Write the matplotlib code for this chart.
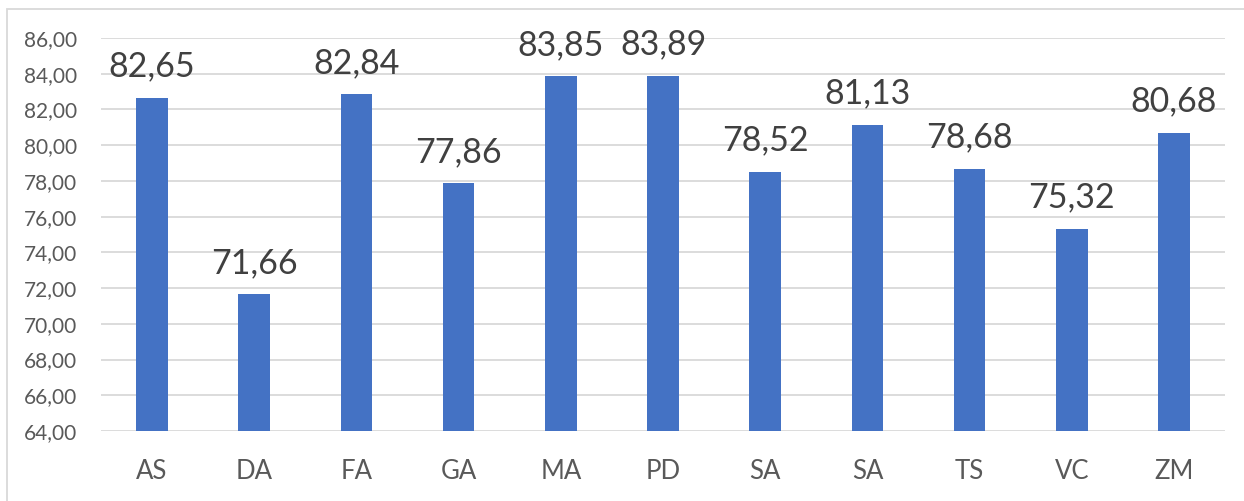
import matplotlib
matplotlib.use("Agg")
import matplotlib.pyplot as plt
from matplotlib.patches import Rectangle
from matplotlib.ticker import MultipleLocator, FuncFormatter

categories = ["AS", "DA", "FA", "GA", "MA", "PD", "SA", "SA", "TS", "VC", "ZM"]
values = [82.65, 71.66, 82.84, 77.86, 83.85, 83.89, 78.52, 81.13, 78.68, 75.32, 80.68]

plt.rcParams['font.family'] = ['Lato', 'DejaVu Sans']
text_color = "#595959"
bar_color = "#4472C4"
grid_color = "#D9D9D9"

fig = plt.figure(figsize=(12.44, 5.01), dpi=100)
fig.patches.append(Rectangle((7/1244, -0.1), 1.2, (501-9)/501 + 0.1,
                             transform=fig.transFigure, fill=False,
                             edgecolor=grid_color, linewidth=1.3))
ax = fig.add_axes([101/1244, 1 - 431/501, (1225-101)/1244, (431-38)/501])

x = list(range(len(categories)))
bars = ax.bar(x, values, width=0.31, color=bar_color, zorder=3)
ax.set_xlim(-0.5, len(categories) - 0.5)
ax.set_ylim(64, 86)
ax.yaxis.set_major_locator(MultipleLocator(2))
ax.yaxis.set_major_formatter(FuncFormatter(lambda v, p: f"{v:.2f}".replace(".", ",")))
ax.set_xticks(x)
ax.set_xticklabels(categories)
ax.grid(axis="y", color=grid_color, linewidth=1.3, zorder=0)
for s in ax.spines.values():
    s.set_visible(False)
ax.tick_params(axis="both", length=0, colors=text_color)
ax.tick_params(axis="y", labelsize=15, pad=17)
ax.tick_params(axis="x", labelsize=18.5, pad=20)
ax.bar_label(bars, labels=[f"{v:.2f}".replace(".", ",") for v in values],
             padding=11, fontsize=24.5, color="#404040")

fig.savefig("out.png", dpi=100)
